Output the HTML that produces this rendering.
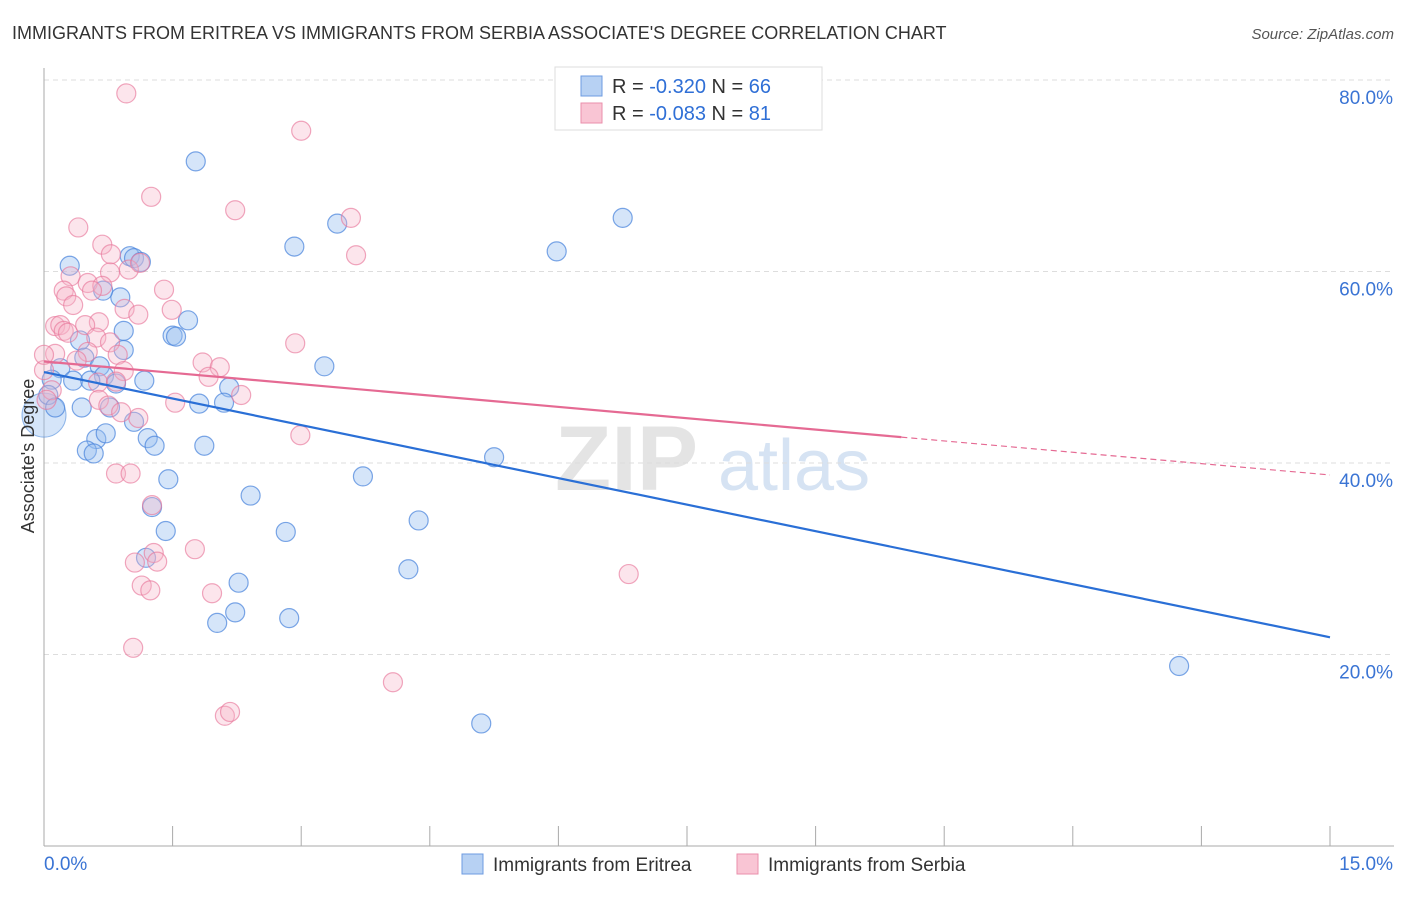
<!DOCTYPE html>
<html><head><meta charset="utf-8"><style>
body{margin:0;background:#fff;font-family:"Liberation Sans",sans-serif;}
svg text{font-family:"Liberation Sans",sans-serif;}
</style></head><body>
<svg id="chart" width="1406" height="892" viewBox="0 0 1406 892">
<text x="12" y="39" font-size="18" fill="#333">IMMIGRANTS FROM ERITREA VS IMMIGRANTS FROM SERBIA ASSOCIATE'S DEGREE CORRELATION CHART</text>
<text x="1394" y="39" font-size="15" fill="#555" text-anchor="end" font-style="italic">Source: ZipAtlas.com</text>
<g>
<text x="555" y="490" font-size="92" fill="#e4e4e4" font-family="Liberation Serif" font-weight="bold">ZIP</text>
<text x="718" y="490" font-size="72" fill="#d6e3f3">atlas</text>
</g>
<g id="grid"></g>
<g id="axes"></g>
<g id="points"></g>
<g id="lines"></g>
<text transform="translate(34,456) rotate(-90)" font-size="18" fill="#333" text-anchor="middle">Associate's Degree</text>
<g>
<rect x="555" y="67" width="267" height="63" fill="#fff" stroke="#ddd"/>
<rect x="581" y="76" width="21" height="20" fill="#b7d1f3" stroke="#6d9be0"/>
<rect x="581" y="103" width="21" height="20" fill="#f9c5d4" stroke="#ea8fab"/>
<text x="612" y="93" font-size="20" fill="#333">R = <tspan fill="#2f6fd6">-0.320</tspan>   N = <tspan fill="#2f6fd6">66</tspan></text>
<text x="612" y="120" font-size="20" fill="#333">R = <tspan fill="#2f6fd6">-0.083</tspan>   N =  <tspan fill="#2f6fd6">81</tspan></text>
</g>
<g>
<rect x="462" y="854" width="21" height="20" fill="#b7d1f3" stroke="#6d9be0"/>
<text x="493" y="871" font-size="19" fill="#333">Immigrants from Eritrea</text>
<rect x="737" y="854" width="21" height="20" fill="#f9c5d4" stroke="#ea8fab"/>
<text x="768" y="871" font-size="19" fill="#333">Immigrants from Serbia</text>
</g>
</svg>
<script>
const yTicks=[20,40,60,80];
const yTickLabels=["20.0%","40.0%","60.0%","80.0%"];
const xTicks=[0,1.5,3,4.5,6,7.5,9,10.5,12,13.5,15];
const xEndLabels=["0.0%","15.0%"];
const eritreaX=[1.77,3.42,2.92,6.75,5.98,0.30,1.00,1.05,1.13,0.89,0.69,1.68,0.93,1.50,1.54,0.93,0.42,0.47,3.27,0.19,0.65,0.70,0.34,0.54,1.17,0.84,2.16,0.09,0.05,0.13,0.44,1.81,2.10,0.77,1.05,1.21,0.61,0.72,1.29,1.87,0.50,0.58,5.25,3.72,1.45,2.41,1.26,4.37,1.42,2.82,1.19,4.25,2.27,2.23,2.02,2.86,13.24,5.10];
const eritreaY=[71.5,65.0,62.6,65.6,62.1,60.6,61.6,61.4,61.0,57.3,58.0,54.9,53.8,53.3,53.2,51.8,52.8,51.0,50.1,49.9,50.1,49.1,48.6,48.6,48.6,48.3,47.9,48.7,47.1,45.8,45.8,46.2,46.3,45.8,44.3,42.6,42.5,43.1,41.8,41.8,41.3,41.0,40.6,38.6,38.3,36.6,35.4,34.0,32.9,32.8,30.1,28.9,27.5,24.4,23.3,23.8,18.8,12.8];
const serbiaX=[0.96,3.00,1.25,2.23,3.58,0.40,3.64,0.68,0.78,0.99,1.12,0.31,0.77,0.51,0.68,0.23,0.26,0.56,1.40,0.34,0.94,1.10,1.49,0.64,0.13,0.19,0.23,0.28,0.48,0.61,0.77,2.93,0.51,0.86,0.13,0.38,1.85,2.05,0.93,0.63,0.84,1.92,0,0.09,2.30,0.64,0.75,1.53,1.10,0.90,2.99,0.84,1.01,1.26,1.76,1.06,1.28,1.32,1.14,1.24,1.96,6.82,1.04,4.07,2.11,2.17,0.03,0];
const serbiaY=[78.6,74.7,67.8,66.4,65.6,64.6,61.7,62.8,61.8,60.2,60.9,59.5,59.9,58.8,58.5,58.0,57.4,58.0,58.1,56.5,56.1,55.5,56.0,54.7,54.3,54.4,53.8,53.6,54.4,53.1,52.6,52.5,51.6,51.3,51.4,50.7,50.5,50.0,49.6,48.4,48.5,49.0,49.7,47.6,47.1,46.6,46.0,46.3,44.7,45.3,42.9,38.9,38.9,35.6,31.0,29.6,30.6,29.7,27.2,26.7,26.4,28.4,20.7,17.1,13.6,14.0,46.6,51.3];
const eritreaTrend=[49.5,21.8];
const serbiaTrend=[50.6,38.75];
const serbiaSolidEnd=10;
const bigPoint=[0,45.0];

const NS="http://www.w3.org/2000/svg";
const X0=44,X1=1330,Y0=846,Y80=80;
function xs(v){return X0+(X1-X0)*v/15;}
function ys(v){return Y0-(Y0-Y80)*v/80;}
function mk(tag,attrs,parent){const e=document.createElementNS(NS,tag);for(const k in attrs)e.setAttribute(k,attrs[k]);document.getElementById(parent).appendChild(e);return e;}

yTicks.forEach((t,i)=>{
 const l=mk('line',{x1:X0,x2:1394,y1:ys(t),y2:ys(t),stroke:'#ddd','stroke-dasharray':'5,4'},'grid');
 
 
 const tx=mk('text',{x:1393,y:ys(t)+24,'font-size':19,fill:'#3a74d4','text-anchor':'end'},'grid');
 tx.textContent=yTickLabels[i];
 
 
});
const ax=mk('line',{x1:X0,x2:1394,y1:Y0,y2:Y0,stroke:'#aaa'},'axes');


const ay=mk('line',{x1:X0,x2:X0,y1:68,y2:Y0,stroke:'#aaa'},'axes');


xTicks.forEach(t=>{
 const l=mk('line',{x1:xs(t),x2:xs(t),y1:826,y2:Y0,stroke:'#aaa'},'axes');
 
 
});
const xl0=mk('text',{x:44,y:870,'font-size':19,fill:'#3a74d4'},'axes');
xl0.textContent=xEndLabels[0];


const xl1=mk('text',{x:1393,y:870,'font-size':19,fill:'#3a74d4','text-anchor':'end'},'axes');
xl1.textContent=xEndLabels[1];



const bp=mk('circle',{cx:xs(bigPoint[0]),cy:ys(bigPoint[1]),r:22,fill:'rgba(150,190,240,0.4)',stroke:'rgba(80,140,220,0.6)'},'points');


eritreaX.forEach((x,i)=>{
 const c=mk('circle',{cx:xs(x),cy:ys(eritreaY[i]),r:9.5,fill:'rgba(150,190,240,0.4)',stroke:'rgba(70,130,220,0.7)','stroke-width':1.2},'points');
 
 
});
serbiaX.forEach((x,i)=>{
 const c=mk('circle',{cx:xs(x),cy:ys(serbiaY[i]),r:9.5,fill:'rgba(247,180,200,0.35)',stroke:'rgba(232,120,155,0.65)','stroke-width':1.2},'points');
 
 
});
const bl=mk('line',{x1:xs(0),y1:ys(eritreaTrend[0]),x2:xs(15),y2:ys(eritreaTrend[1]),stroke:'#2a6fd6','stroke-width':2.2},'lines');


const sMid=serbiaTrend[0]+(serbiaTrend[1]-serbiaTrend[0])*serbiaSolidEnd/15;
const pl=mk('line',{x1:xs(0),y1:ys(serbiaTrend[0]),x2:xs(serbiaSolidEnd),y2:ys(sMid),stroke:'#e56a93','stroke-width':2.2},'lines');


const pd=mk('line',{x1:xs(serbiaSolidEnd),y1:ys(sMid),x2:xs(15),y2:ys(serbiaTrend[1]),stroke:'#e56a93','stroke-width':1.2,'stroke-dasharray':'6,4'},'lines');


</script>
</body></html>
